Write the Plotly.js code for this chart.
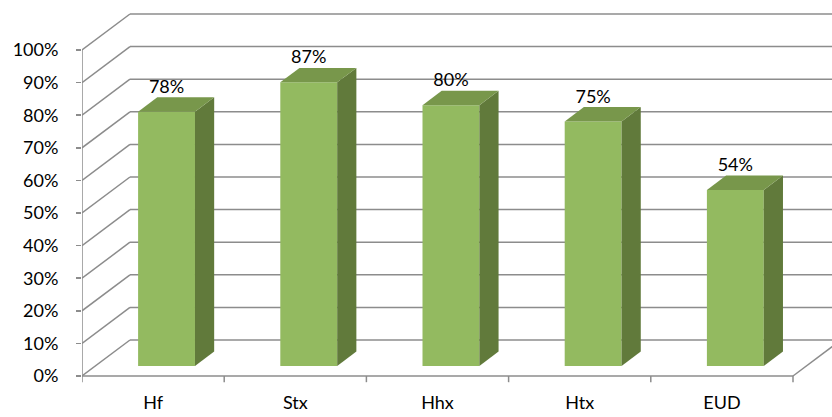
<!DOCTYPE html>
<html>
<head>
<meta charset="utf-8">
<script src="https://cdn.plot.ly/plotly-3.0.1.min.js"></script>
<style>html,body{margin:0;padding:0;background:#fff;}#chart{width:832px;height:417px;}</style>
</head>
<body>
<div id="chart"></div>
<script>
// ---- data ----
const categories = ['Hf', 'Stx', 'Hhx', 'Htx', 'EUD'];
const values = [78, 87, 80, 75, 54];
const valueLabels = ['78%', '87%', '80%', '75%', '54%'];
const yTickValues = [0, 10, 20, 30, 40, 50, 60, 70, 80, 90, 100];
const yTickLabels = ['0%', '10%', '20%', '30%', '40%', '50%', '60%', '70%', '80%', '90%', '100%'];

// ---- 3D projection constants (data units) ----
const DX = 0.3375;   // full depth, in category units
const DY = 11.04;    // full depth, in % units
const FRONT = 0.28;  // bar front plane depth fraction
const DEPTH = 0.4;   // bar depth fraction
const BW = 0.4;      // bar width (category units)

const FRONT_COL = '#93BA60';
const SIDE_COL = '#617A3B';
const TOP_COL = '#78974B';
const GRID_COL = '#8C8C8C';
const FONT = 'Lato, "Open Sans", sans-serif';

const xs = categories.map((c, i) => i);
const x0 = -0.5, x1 = categories.length - 0.5;
const yTop = 115.34, yBot = -2.76;

const traces = [];
// front faces (bar trace, offset into depth)
traces.push({
  type: 'bar',
  x: xs.map(i => i + FRONT * DX),
  y: values,
  base: values.map(() => FRONT * DY),
  width: BW,
  marker: {color: FRONT_COL, line: {width: 0}},
  hoverinfo: 'skip',
  showlegend: false
});
// side and top faces
values.forEach((v, i) => {
  const xl = i + FRONT * DX - BW / 2, xr = i + FRONT * DX + BW / 2;
  const b = FRONT * DY, t = FRONT * DY + v;
  const dx = DEPTH * DX, dy = DEPTH * DY;
  traces.push({
    type: 'scatter', mode: 'lines', fill: 'toself',
    x: [xr, xr, xr + dx, xr + dx, xr], y: [b, t, t + dy, b + dy, b],
    fillcolor: SIDE_COL, line: {width: 0, color: SIDE_COL},
    hoverinfo: 'skip', showlegend: false
  });
  traces.push({
    type: 'scatter', mode: 'lines', fill: 'toself',
    x: [xl, xr, xr + dx, xl + dx, xl], y: [t, t, t + dy, t + dy, t],
    fillcolor: TOP_COL, line: {width: 0, color: TOP_COL},
    hoverinfo: 'skip', showlegend: false
  });
});
// value labels
traces.push({
  type: 'scatter', mode: 'text',
  x: xs.map(i => i + FRONT * DX),
  y: values.map(v => v + (FRONT + DEPTH) * DY),
  text: valueLabels,
  textposition: 'top center',
  textfont: {family: FONT, size: 18, color: '#000'},
  cliponaxis: false,
  hoverinfo: 'skip', showlegend: false
});

// ---- walls / gridlines as shapes ----
const shapes = [];
const ln = (xa, ya, xb, yb) => shapes.push({
  type: 'line', xref: 'x', yref: 'y', x0: xa, y0: ya, x1: xb, y1: yb,
  layer: 'below', line: {color: GRID_COL, width: 1.5}
});
yTickValues.forEach(v => {
  ln(x0, v, x0 + DX, v + DY);
  ln(x0 + DX, v + DY, x1 + DX, v + DY);
});
// front axis line and floor front edge
ln(x0, 0, x0, 100);
ln(x0, 0, x1, 0);
ln(x1, 0, x1 + DX, DY);
// category tick marks
for (let k = 0; k <= categories.length; k++) ln(x0 + k, 0, x0 + k, -1.9);

const layout = {
  width: 832, height: 417,
  margin: {l: 82, r: 0, t: 0, b: 32},
  paper_bgcolor: '#fff', plot_bgcolor: '#fff',
  showlegend: false,
  barmode: 'overlay',
  font: {family: FONT, size: 18, color: '#000'},
  xaxis: {
    range: [x0, x0 + 750 / 142.2],
    tickvals: xs, ticktext: categories,
    ticks: '', showgrid: false, zeroline: false, showline: false,
    ticklabelstandoff: 5,
    tickfont: {family: FONT, size: 18, color: '#000'},
    automargin: false, fixedrange: true
  },
  yaxis: {
    range: [yBot, yTop],
    tickvals: yTickValues, ticktext: yTickLabels,
    ticks: 'outside', ticklen: 5, tickwidth: 1.5, tickcolor: GRID_COL,
    ticklabelstandoff: 14,
    showgrid: false, zeroline: false, showline: false,
    tickfont: {family: FONT, size: 18, color: '#000'},
    automargin: false, fixedrange: true
  },
  shapes: shapes
};

Plotly.newPlot('chart', traces, layout, {displayModeBar: false, staticPlot: true});
</script>
</body>
</html>
